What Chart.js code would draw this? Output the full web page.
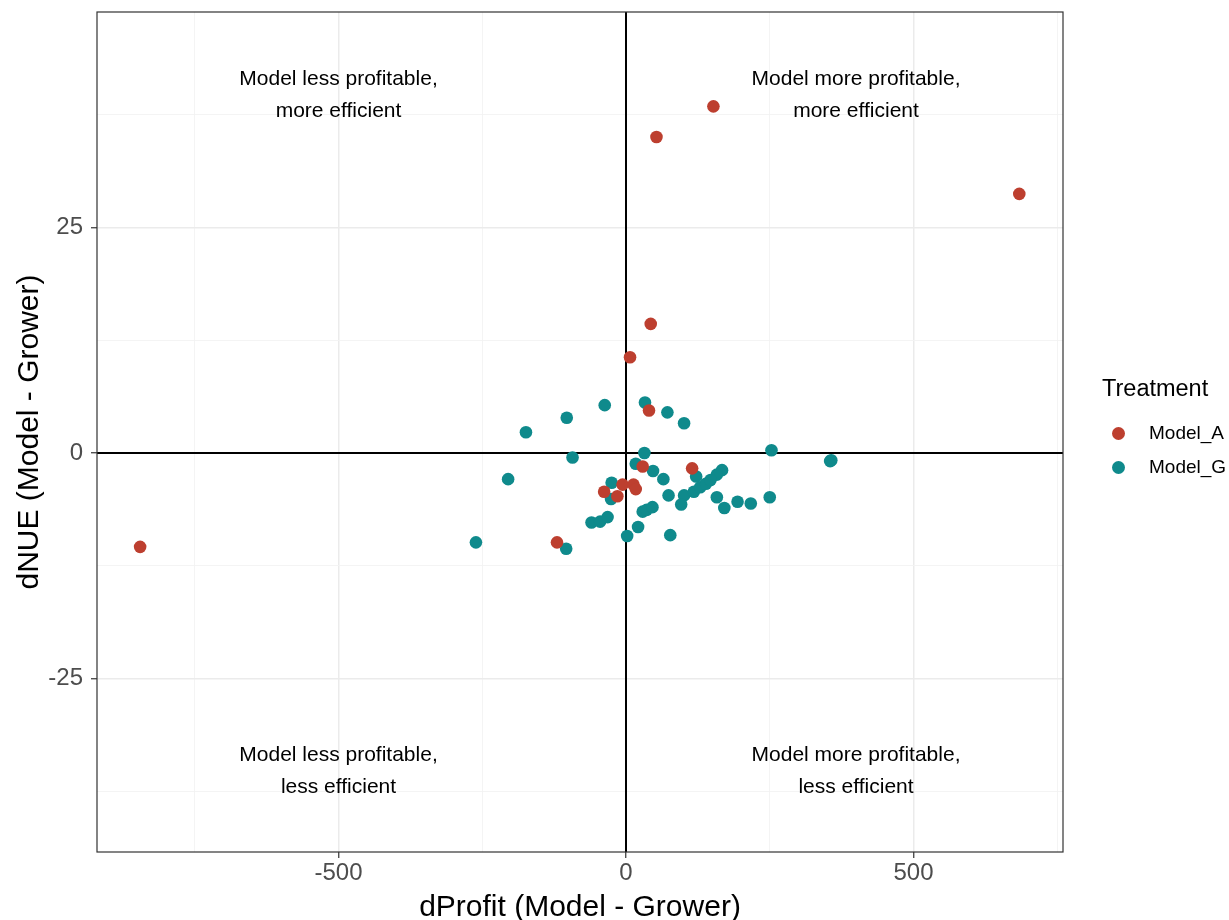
<!DOCTYPE html>
<html>
<head>
<meta charset="utf-8">
<script src="https://cdn.jsdelivr.net/npm/chart.js@4/dist/chart.umd.min.js"></script>
<style>
  body { margin: 0; background: #fff; }
  #wrap { position: relative; width: 1229px; height: 920px; font-family: "Liberation Sans", Arial, sans-serif; }
  #legend div { position: absolute; color: #000; white-space: nowrap; }
  .dot { width: 13px; height: 13px; border-radius: 50%; }
</style>
</head>
<body>
<div id="wrap">
  <canvas id="grafico" width="1229" height="920"></canvas>
  <div id="legend">
    <div style="left:1102px; top:377px; font-size:23.5px; line-height:23.5px;">Treatment</div>
    <div class="dot" style="left:1111.5px; top:427px; background:#bd3f2f;"></div>
    <div style="left:1149px; top:423px; font-size:19px; line-height:19px;">Model_A</div>
    <div class="dot" style="left:1111.5px; top:460.5px; background:#0f8a8c;"></div>
    <div style="left:1149px; top:457px; font-size:19px; line-height:19px;">Model_G</div>
  </div>
</div>
<script>
// pontos
const modeloA_x = [-845, 152, 53, 684, 43, 7, 40, 115, 29, -6, 13, 17, -38, -15, -120];
const modeloA_y = [-10.4, 38.4, 35.0, 28.7, 14.3, 10.6, 4.7, -1.7, -1.5, -3.5, -3.5, -4.0, -4.3, -4.8, -9.9];

const modeloG_x = [-37, -103, -174, -93, -205, -261, -104, -25, -26, 17, -60, -45, -32, 2, 29, 36, 46,
  33, 72, 101, 32, 253, 355, 357, 47, 65, 122, 167, 158, 101, 118, 129, 139, 147, 74, 96, 158, 171,
  194, 217, 250, 21, 77];
const modeloG_y = [5.3, 3.9, 2.3, -0.5, -2.9, -9.9, -10.6, -3.3, -5.1, -1.2, -7.7, -7.6, -7.1, -9.2, -6.5, -6.3, -6.0,
  5.6, 4.5, 3.3, 0.0, 0.3, -0.9, -0.8, -2.0, -2.9, -2.6, -1.9, -2.4, -4.7, -4.3, -3.8, -3.4, -3.0, -4.7, -5.7, -4.9, -6.1,
  -5.4, -5.6, -4.9, -8.2, -9.1];

const gradeX = [-750, -500, -250, 0, 250, 500, 750];
const gradeY = [-37.5, -25, -12.5, 0, 12.5, 25, 37.5];
const rotulosX = [-500, 0, 500];
const rotulosY = [-25, 0, 25];

const notasTexto = [
  ['Model less profitable,', 'more efficient'],
  ['Model more profitable,', 'more efficient'],
  ['Model less profitable,', 'less efficient'],
  ['Model more profitable,', 'less efficient']
];
const notasX = [-500, 400, -500, 400];
const notasY = [39.6, 39.6, -35.3, -35.3];

const juntar = (xs, ys) => xs.map((x, i) => ({ x: x, y: ys[i] }));

const corGradeMaior = '#ebebeb';
const corGradeMenor = '#f3f3f3';

function opcoesGrade(maiores) {
  return {
    color: ctx => maiores.includes(ctx.tick.value) ? corGradeMaior : corGradeMenor,
    lineWidth: ctx => maiores.includes(ctx.tick.value) ? 1.5 : 0.9,
    tickColor: ctx => maiores.includes(ctx.tick.value) ? '#333333' : 'rgba(0,0,0,0)',
    tickWidth: 1.2,
    tickLength: 6,
    drawTicks: true
  };
}

// linhas do zero, moldura e textos dos quadrantes
const extras = {
  id: 'extras',
  beforeDatasetsDraw(chart) {
    const { ctx, chartArea: a, scales: { x, y } } = chart;
    ctx.save();
    ctx.strokeStyle = '#000';
    ctx.lineWidth = 2;
    const x0 = x.getPixelForValue(0);
    const y0 = y.getPixelForValue(0);
    ctx.beginPath();
    ctx.moveTo(x0, a.top); ctx.lineTo(x0, a.bottom);
    ctx.moveTo(a.left, y0); ctx.lineTo(a.right, y0);
    ctx.stroke();
    ctx.restore();
  },
  afterDatasetsDraw(chart) {
    const { ctx, chartArea: a, scales: { x, y } } = chart;
    ctx.save();
    ctx.fillStyle = '#000';
    ctx.font = '21px "Liberation Sans", Arial, sans-serif';
    ctx.textAlign = 'center';
    ctx.textBaseline = 'middle';
    notasTexto.forEach((linhas, i) => {
      const px = x.getPixelForValue(notasX[i]);
      const py = y.getPixelForValue(notasY[i]);
      ctx.fillText(linhas[0], px, py - 16);
      ctx.fillText(linhas[1], px, py + 16);
    });
    ctx.strokeStyle = '#333333';
    ctx.lineWidth = 1.2;
    ctx.strokeRect(a.left, a.top, a.right - a.left, a.bottom - a.top);
    ctx.restore();
  }
};

const fonteTick = { family: '"Liberation Sans", Arial, sans-serif', size: 24 };
const fonteTitulo = { family: '"Liberation Sans", Arial, sans-serif', size: 30 };

new Chart(document.getElementById('grafico'), {
  type: 'scatter',
  data: {
    datasets: [
      { label: 'Model_A', data: juntar(modeloA_x, modeloA_y), backgroundColor: '#bd3f2f', pointRadius: 6.3, pointHoverRadius: 6.3, borderWidth: 0 },
      { label: 'Model_G', data: juntar(modeloG_x, modeloG_y), backgroundColor: '#0f8a8c', pointRadius: 6.3, pointHoverRadius: 6.3, borderWidth: 0 }
    ]
  },
  options: {
    responsive: false,
    animation: false,
    layout: { padding: { top: 12, right: 166, left: 0, bottom: 0 } },
    plugins: { legend: { display: false }, tooltip: { enabled: false } },
    scales: {
      x: {
        type: 'linear',
        min: -920,
        max: 760,
        afterBuildTicks: s => { s.ticks = gradeX.map(v => ({ value: v })); },
        afterFit: s => { s.height = 68; s.paddingLeft = 0; s.paddingRight = 0; },
        ticks: {
          callback: v => rotulosX.includes(v) ? String(v) : '',
          color: '#4d4d4d',
          font: fonteTick,
          padding: 1,
          maxRotation: 0,
          autoSkip: false
        },
        grid: opcoesGrade(rotulosX),
        border: { display: false },
        title: { display: true, text: 'dProfit (Model - Grower)', color: '#000', font: Object.assign({ lineHeight: 0.8 }, fonteTitulo), padding: 0 }
      },
      y: {
        type: 'linear',
        min: -44.2,
        max: 48.85,
        afterBuildTicks: s => { s.ticks = gradeY.map(v => ({ value: v })); },
        afterFit: s => { s.width = 97; s.paddingTop = 0; s.paddingBottom = 0; },
        ticks: {
          callback: v => rotulosY.includes(v) ? String(v) : '',
          color: '#4d4d4d',
          font: fonteTick,
          padding: 8,
          autoSkip: false
        },
        grid: opcoesGrade(rotulosY),
        border: { display: false },
        title: { display: true, text: 'dNUE (Model - Grower)', color: '#000', font: fonteTitulo, padding: { top: 12, bottom: 0 } }
      }
    }
  },
  plugins: [extras]
});
</script>
</body>
</html>
